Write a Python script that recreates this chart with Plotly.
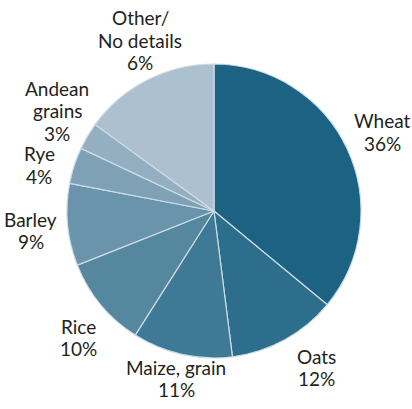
import plotly.graph_objects as go

categories = ["Wheat", "Oats", "Maize, grain", "Rice", "Barley", "Rye", "Andean grains", "Other/ No details"]
values = [36, 12, 11, 10, 9, 4, 3, 15]
label_lines = [["Wheat", "36%"], ["Oats", "12%"], ["Maize, grain", "11%"], ["Rice", "10%"],
               ["Barley", "9%"], ["Rye", "4%"], ["Andean", "grains", "3%"], ["Other/", "No details", "6%"]]
colors = ["#1c6383", "#2c6e8c", "#3e7995", "#55879f", "#6a94ab", "#7ea1b6", "#94afc1", "#adc0cf"]

# label centre positions in pixels (from top-left)
label_pos = [(382, 132), (316, 367), (176, 378), (78, 337), (31, 230), (39, 165), (57, 111), (140, 40)]

W, H = 412, 409
cx, cy, r = 214, 211, 147
line_gap = 22

fig = go.Figure(go.Pie(
    labels=categories, values=values, sort=False, direction="clockwise", rotation=0,
    marker=dict(colors=colors, line=dict(color="#cddbe6", width=1.2)),
    textinfo="none", hoverinfo="label+percent", showlegend=False,
    domain=dict(x=[(cx - r) / W, (cx + r) / W], y=[(H - cy - r) / H, (H - cy + r) / H]),
))

annotations = []
for lines, (px, py) in zip(label_lines, label_pos):
    n = len(lines)
    for i, t in enumerate(lines):
        ly = py + (i - (n - 1) / 2) * line_gap
        annotations.append(dict(x=px / W, y=(H - ly) / H, xref="paper", yref="paper",
                                text=t, showarrow=False, xanchor="center", yanchor="middle",
                                font=dict(family="Lato", size=19, color="#231f20")))

fig.update_layout(width=W, height=H, margin=dict(l=0, r=0, t=0, b=0),
                  paper_bgcolor="white", plot_bgcolor="white", annotations=annotations)
fig.write_html("out.html", config={"displayModeBar": False},
               post_script="document.body.style.margin='0';")
